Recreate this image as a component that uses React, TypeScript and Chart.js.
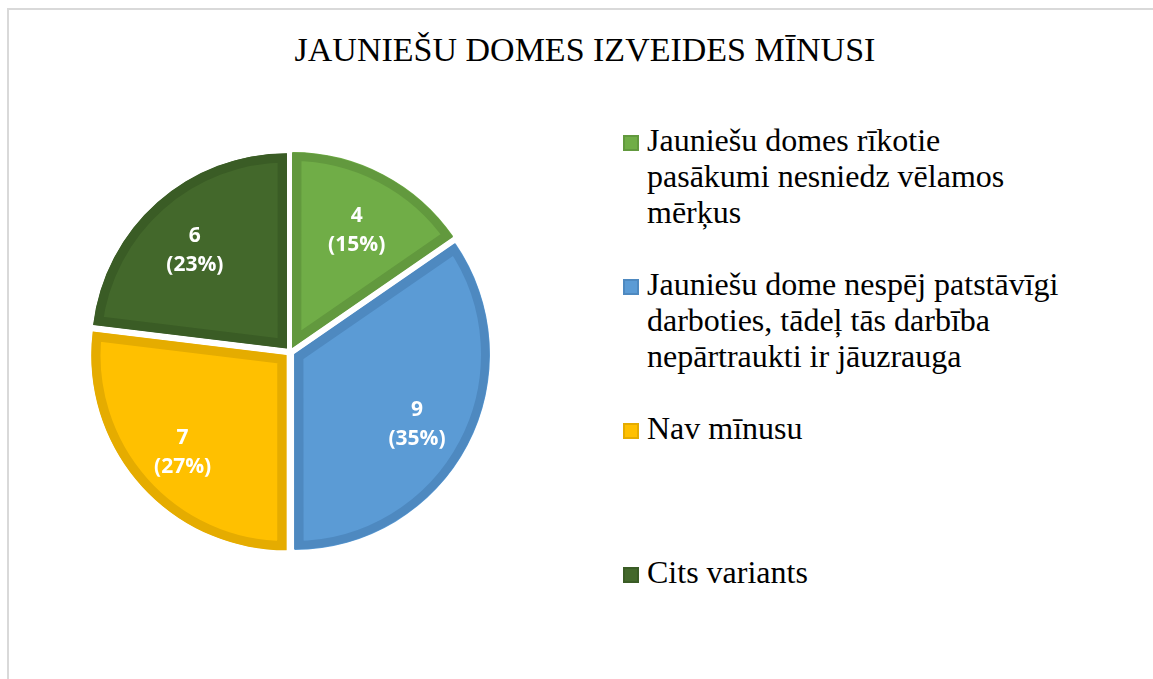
import React, { useEffect, useRef } from "react";
import { Chart, registerables } from "chart.js";

Chart.register(...registerables);

const titleText = "JAUNIEŠU DOMES IZVEIDES MĪNUSI";
const categories: string[][] = [
  ["Jauniešu domes rīkotie", "pasākumi nesniedz vēlamos", "mērķus"],
  ["Jauniešu dome nespēj patstāvīgi", "darboties, tādeļ tās darbība", "nepārtraukti ir jāuzrauga"],
  ["Nav mīnusu"],
  ["Cits variants"],
];
const values = [4, 9, 7, 6];
const fillColors = ["#70AD47", "#5B9BD5", "#FFC000", "#43682B"];
const edgeColors = ["#62993E", "#4E89C0", "#E5AC00", "#3A5C25"];

const labelPlugin = {
  id: "sliceLabels",
  afterDatasetsDraw(chart: any) {
    const ctx = chart.ctx;
    const meta = chart.getDatasetMeta(0);
    const data = chart.data.datasets[0].data as number[];
    const total = data.reduce((a, b) => a + b, 0);
    ctx.save();
    ctx.fillStyle = "#FFFFFF";
    ctx.font = "bold 21px 'Open Sans'";
    ctx.textAlign = "center";
    ctx.textBaseline = "middle";
    meta.data.forEach((arc: any, i: number) => {
      const p = arc.getProps(["x", "y", "startAngle", "endAngle", "outerRadius"], true);
      const mid = (p.startAngle + p.endAngle) / 2;
      const off = (arc.options.offset || 0) / 4;
      const r = p.outerRadius * 0.71 + off;
      const cx = p.x + Math.cos(mid) * r;
      const cy = p.y + Math.sin(mid) * r + 5;
      const pct = Math.round((data[i] / total) * 100);
      ctx.fillText(String(data[i]), cx, cy - 14);
      ctx.fillText("(" + pct + "%)", cx, cy + 15);
    });
    ctx.restore();
  },
};

export default function App() {
  const canvasRef = useRef<HTMLCanvasElement | null>(null);

  useEffect(() => {
    if (!canvasRef.current) return;
    const chart = new Chart(canvasRef.current, {
      type: "pie",
      data: {
        labels: categories.map((l) => l.join(" ")),
        datasets: [
          {
            data: values,
            backgroundColor: fillColors,
            borderColor: edgeColors,
            borderWidth: 9,
            borderAlign: "inner",
            offset: 20,
            hoverOffset: 0,
          } as any,
        ],
      },
      options: {
        responsive: false,
        animation: false,
        radius: 195,
        events: [],
        layout: { padding: 0 },
        plugins: {
          legend: { display: false },
          tooltip: { enabled: false },
          title: { display: false },
        },
      } as any,
      plugins: [labelPlugin],
    });
    return () => chart.destroy();
  }, []);

  return (
    <div
      style={{
        position: "absolute",
        left: 0,
        top: 0,
        width: 1153,
        height: 679,
        overflow: "hidden",
        background: "#FFFFFF",
      }}
    >
      <div
        style={{
          position: "absolute",
          left: 7,
          top: 8,
          width: 1200,
          height: 700,
          borderLeft: "2px solid #D9D9D9",
          borderTop: "2px solid #D9D9D9",
          boxSizing: "border-box",
        }}
      />
      <div
        style={{
          position: "absolute",
          left: 0,
          top: 30,
          width: 1170,
          textAlign: "center",
          fontFamily: "'Liberation Serif', 'Times New Roman', serif",
          fontSize: 34,
          lineHeight: "40px",
          color: "#000",
          whiteSpace: "nowrap",
        }}
      >
        {titleText}
      </div>
      <canvas
        ref={canvasRef}
        width={480}
        height={480}
        style={{ position: "absolute", left: 50, top: 112, width: 480, height: 480 }}
      />
      <div style={{ position: "absolute", left: 623, top: 122 }}>
        {categories.map((lines, i) => (
          <div key={i} style={{ position: "relative", height: 144 }}>
            <div
              style={{
                position: "absolute",
                left: 0,
                top: 13,
                width: 16,
                height: 16,
                boxSizing: "border-box",
                background: fillColors[i],
                border: "2px solid " + edgeColors[i],
              }}
            />
            <div
              style={{
                position: "absolute",
                left: 24,
                top: 0,
                fontFamily: "'Liberation Serif', 'Times New Roman', serif",
                fontSize: 32,
                lineHeight: "36px",
                color: "#000",
                whiteSpace: "nowrap",
              }}
            >
              {lines.map((ln, j) => (
                <div key={j}>{ln}</div>
              ))}
            </div>
          </div>
        ))}
      </div>
    </div>
  );
}
